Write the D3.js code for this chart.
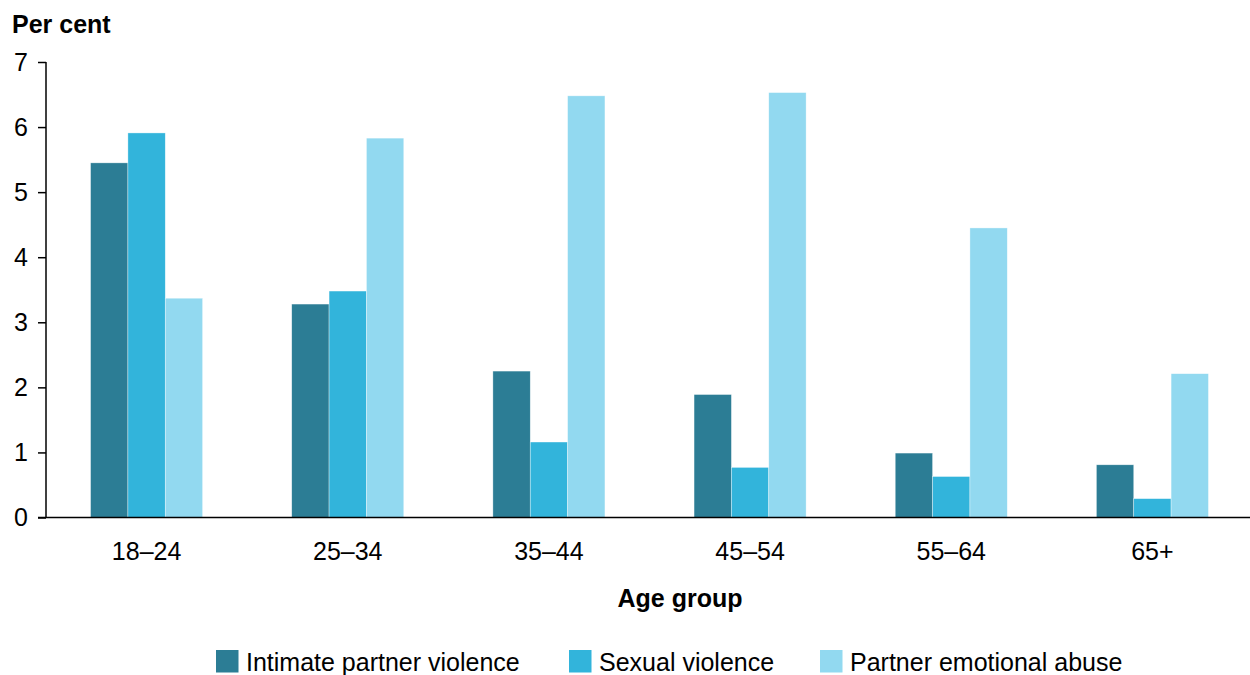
<!DOCTYPE html>
<html>
<head>
<meta charset="utf-8">
<script src="https://cdn.jsdelivr.net/npm/d3@7"></script>
<style>
  html, body { margin: 0; padding: 0; background: #fff; }
  svg { display: block; font-family: "Liberation Sans", Arial, sans-serif; }
</style>
</head>
<body>
<svg id="chart" width="1250" height="675"></svg>
<script>
const categories = ["18–24", "25–34", "35–44", "45–54", "55–64", "65+"];
const seriesNames = ["Intimate partner violence", "Sexual violence", "Partner emotional abuse"];
const intimatePartnerViolence = [5.45, 3.28, 2.25, 1.89, 0.99, 0.81];
const sexualViolence = [5.91, 3.48, 1.16, 0.77, 0.63, 0.29];
const partnerEmotionalAbuse = [3.37, 5.83, 6.48, 6.53, 4.45, 2.21];
const yTicks = [0, 1, 2, 3, 4, 5, 6, 7];
const colors = ["#2c7d95", "#32b4db", "#92d9f0"];

(function () {
const seriesValues = [intimatePartnerViolence, sexualViolence, partnerEmotionalAbuse];
const data = categories.map((c, i) => ({
  cat: c,
  vals: seriesNames.map((s, j) => ({ key: s, value: seriesValues[j][i], idx: j }))
}));

const svg = d3.select("#chart");
const mLeft = 46, mRight = 1250, mTop = 62, mBottom = 517.5;
const FS = 25;

const x = d3.scaleBand().domain(categories).range([mLeft, 1253]).paddingInner(0.443).paddingOuter(0.2215);
const xs = d3.scaleBand().domain(seriesNames).range([0, x.bandwidth()]).padding(0);
const y = d3.scaleLinear().domain([0, 7]).range([mBottom, mTop]);

// bars
const g = svg.append("g");
g.selectAll("g.grp").data(data).join("g")
  .attr("class", "grp")
  .attr("transform", d => `translate(${x(d.cat)},0)`)
  .selectAll("rect").data(d => d.vals).join("rect")
  .attr("x", d => xs(d.key))
  .attr("width", xs.bandwidth())
  .attr("y", d => y(d.value))
  .attr("height", d => y(0) - y(d.value))
  .attr("fill", d => colors[d.idx])
  .attr("stroke", "#ffffff")
  .attr("stroke-opacity", 0.6)
  .attr("stroke-width", 0.6);

// y axis
const yAxis = svg.append("g")
  .attr("transform", `translate(${mLeft},0)`)
  .call(d3.axisLeft(y).tickValues(yTicks).tickSize(8).tickPadding(10).tickFormat(d3.format("d")));
yAxis.select(".domain").attr("stroke", "#000").attr("stroke-width", 1.5).attr("d", `M0,${mTop}V${mBottom}`);
yAxis.selectAll(".tick line").attr("stroke", "#000").attr("stroke-width", 1.5);
yAxis.selectAll(".tick text").attr("font-size", FS).attr("fill", "#000").attr("font-family", "Liberation Sans, Arial, sans-serif");

// x axis
const xAxis = svg.append("g")
  .attr("transform", `translate(0,${mBottom})`)
  .call(d3.axisBottom(x).tickSize(0).tickPadding(25));
xAxis.select(".domain").attr("stroke", "#000").attr("stroke-width", 1.5).attr("d", `M38,0H${mRight}`);
xAxis.selectAll(".tick text").attr("font-size", FS).attr("fill", "#000").attr("font-family", "Liberation Sans, Arial, sans-serif");

// titles
svg.append("text").attr("x", 12).attr("y", 33).attr("font-size", FS).attr("font-weight", "bold").attr("fill", "#000").text("Per cent");
svg.append("text").attr("x", 680).attr("y", 606.5).attr("text-anchor", "middle").attr("font-size", FS).attr("font-weight", "bold").attr("fill", "#000").text("Age group");

// legend
const legendX = [216, 569, 820];
const lg = svg.append("g");
seriesNames.forEach((s, i) => {
  lg.append("rect").attr("x", legendX[i]).attr("y", 650).attr("width", 22.5).attr("height", 22.5).attr("fill", colors[i]);
  lg.append("text").attr("x", legendX[i] + 30).attr("y", 671).attr("font-size", FS).attr("fill", "#000").text(s);
});
})();
</script>
</body>
</html>
